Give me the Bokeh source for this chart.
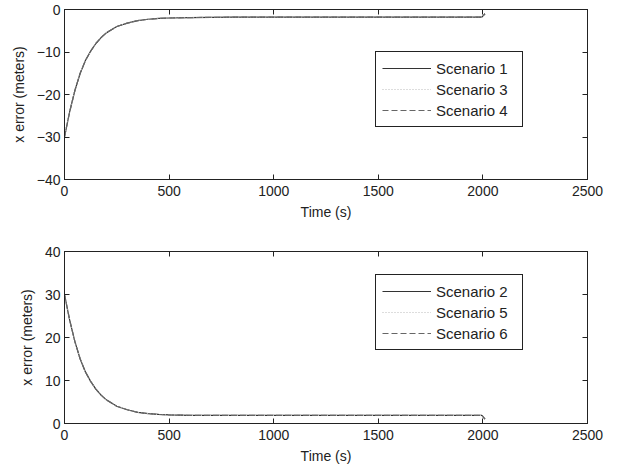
from bokeh.plotting import figure
from bokeh.layouts import column
from bokeh.models import LinearAxis, FixedTicker, Range1d, Legend, LegendItem, CustomJSTickFormatter
from bokeh.embed import file_html
from bokeh.resources import INLINE

# Time (s)
time_s = [0, 25, 50, 75, 100, 125, 150, 175, 200, 250, 300, 350, 400, 450, 500,
          600, 800, 1000, 1500, 1995, 2010]

# Top panel: x error (meters), scenarios 1, 3, 4 (overlapping)
scenario1 = [-30, -24, -19, -15, -12, -9.8, -8.0, -6.6, -5.5, -4.0, -3.2, -2.6,
             -2.3, -2.1, -2.0, -1.9, -1.8, -1.8, -1.8, -1.8, -1.0]
scenario3 = [-30, -24, -19, -15, -12, -9.8, -8.0, -6.6, -5.5, -4.0, -3.2, -2.6,
             -2.3, -2.1, -2.0, -1.9, -1.8, -1.8, -1.8, -1.8, -1.0]
scenario4 = [-30, -24, -19, -15, -12, -9.8, -8.0, -6.6, -5.5, -4.0, -3.2, -2.6,
             -2.3, -2.1, -2.0, -1.9, -1.8, -1.8, -1.8, -1.8, -1.0]

# Bottom panel: scenarios 2, 5, 6 (overlapping)
scenario2 = [30, 24, 19, 15, 12, 9.8, 8.0, 6.6, 5.5, 4.0, 3.2, 2.6,
             2.3, 2.1, 2.0, 1.9, 1.9, 1.9, 1.9, 1.9, 1.0]
scenario5 = [30, 24, 19, 15, 12, 9.8, 8.0, 6.6, 5.5, 4.0, 3.2, 2.6,
             2.3, 2.1, 2.0, 1.9, 1.9, 1.9, 1.9, 1.9, 1.0]
scenario6 = [30, 24, 19, 15, 12, 9.8, 8.0, 6.6, 5.5, 4.0, 3.2, 2.6,
             2.3, 2.1, 2.0, 1.9, 1.9, 1.9, 1.9, 1.9, 1.0]

x_ticks = [0, 500, 1000, 1500, 2000, 2500]
y_ticks_top = [-40, -30, -20, -10, 0]
y_ticks_bottom = [0, 10, 20, 30, 40]

FONT = "Liberation Sans"
TXT = "#222222"


def style_axis(ax, show_labels=True, label_standoff=3, title_standoff=4):
    ax.major_tick_in = 5
    ax.major_tick_out = 0
    ax.minor_tick_in = 0
    ax.minor_tick_out = 0
    ax.axis_line_color = "#222222"
    ax.major_tick_line_color = "#222222"
    ax.major_label_text_font = FONT
    ax.major_label_text_font_size = "14px"
    ax.major_label_text_color = TXT
    ax.axis_label_text_font = FONT
    ax.axis_label_text_font_size = "14px"
    ax.axis_label_text_font_style = "normal"
    ax.axis_label_text_color = TXT
    ax.major_label_standoff = label_standoff
    ax.axis_label_standoff = title_standoff
    if not show_labels:
        ax.formatter = CustomJSTickFormatter(code="return ''")
        ax.major_label_standoff = 0


def make_panel(ys, names, yrange, yticks, top_border, bottom_border, fh, legend_loc):
    p = figure(frame_width=523, frame_height=fh, output_backend="svg",
               toolbar_location=None, x_range=Range1d(0, 2500),
               y_range=Range1d(*yrange), min_border_left=64,
               min_border_right=20, min_border_top=top_border,
               min_border_bottom=bottom_border)
    p.grid.visible = False
    p.outline_line_color = "#222222"
    p.background_fill_color = "white"
    p.border_fill_color = "white"
    p.xaxis.ticker = FixedTicker(ticks=x_ticks)
    p.yaxis.ticker = FixedTicker(ticks=yticks)
    p.xaxis.axis_label = "Time (s)"
    p.yaxis.axis_label = "x error (meters)"
    style_axis(p.xaxis[0], label_standoff=6, title_standoff=5)
    style_axis(p.yaxis[0], label_standoff=4, title_standoff=7)
    ax_r = LinearAxis(ticker=FixedTicker(ticks=yticks))
    style_axis(ax_r, False)
    p.add_layout(ax_r, "right")
    ax_t = LinearAxis(ticker=FixedTicker(ticks=x_ticks))
    style_axis(ax_t, False)
    p.add_layout(ax_t, "above")

    r1 = p.line(time_s, ys[0], line_color="#333333", line_width=1.2)
    r2 = p.line(time_s, ys[1], line_color="#bbbbbb", line_width=1.2, line_dash="1 2")
    r3 = p.line(time_s, ys[2], line_color="#666666", line_width=1.2, line_dash="6 3")
    legend = Legend(items=[LegendItem(label=names[0], renderers=[r1]),
                           LegendItem(label=names[1], renderers=[r2]),
                           LegendItem(label=names[2], renderers=[r3])],
                    location=legend_loc)
    legend.label_text_font = FONT
    legend.label_text_font_size = "15px"
    legend.label_text_color = TXT
    legend.border_line_color = "#222222"
    legend.border_line_alpha = 1
    legend.background_fill_color = "white"
    legend.background_fill_alpha = 1
    legend.glyph_width = 49
    legend.glyph_height = 20
    legend.label_height = 20
    legend.label_width = 80
    legend.label_standoff = 5
    legend.spacing = 1
    legend.padding = 6
    legend.margin = 0
    p.add_layout(legend, "center")
    return p


p1 = make_panel([scenario1, scenario3, scenario4],
                ["Scenario 1", "Scenario 3", "Scenario 4"],
                (-40, 0), y_ticks_top, 9, 50, 170, (311, 52))
p2 = make_panel([scenario2, scenario5, scenario6],
                ["Scenario 2", "Scenario 5", "Scenario 6"],
                (0, 40), y_ticks_bottom, 22, 40, 172, (311, 73))

p = column(p1, p2, spacing=0)
open("out.html", "w").write(file_html(p, INLINE))
